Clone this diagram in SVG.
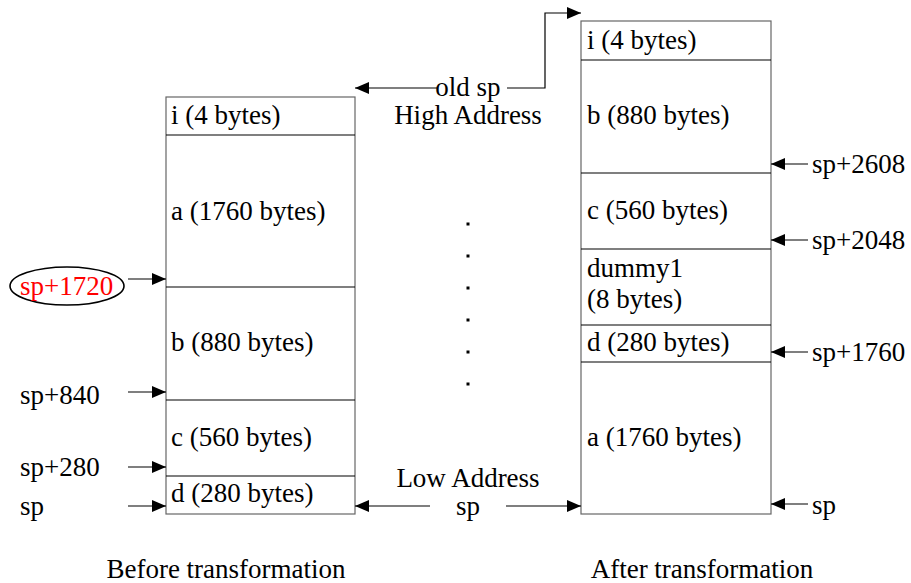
<svg xmlns="http://www.w3.org/2000/svg" width="911" height="583" viewBox="0 0 911 583">
  <style>
    text { font-family: "Liberation Serif", "Times New Roman", serif; font-size: 27px; fill: #000; }
    .mid { text-anchor: middle; }
    .red { fill: #ff0000; }
    .box { fill: #fff; stroke: #666; stroke-width: 1.2; }
    .div { stroke: #000; stroke-width: 1.2; }
    .arr { fill: none; stroke: #000; stroke-width: 1.2; marker-end: url(#head); }
  </style>
  <defs>
    <marker id="head" viewBox="0 0 14 12" refX="14" refY="6" markerWidth="14" markerHeight="12" markerUnits="userSpaceOnUse" orient="auto">
      <path d="M0,0 L14,6 L0,12 Z" fill="#000"/>
    </marker>
  </defs>
  <rect width="911" height="583" fill="#fff"/>

  <g font-family="Liberation Serif, serif" font-size="27">
  <!-- stack frame before the transformation -->
  <g id="frame-before">
    <rect class="box" x="166" y="97" width="189" height="417"/>
    <line class="div" x1="166" y1="135" x2="355" y2="135"/>
    <line class="div" x1="166" y1="287" x2="355" y2="287"/>
    <line class="div" x1="166" y1="400" x2="355" y2="400"/>
    <line class="div" x1="166" y1="476" x2="355" y2="476"/>
    <text x="171" y="124">i (4 bytes)</text>
    <text x="171" y="220">a (1760 bytes)</text>
    <text x="171" y="351">b (880 bytes)</text>
    <text x="171" y="446">c (560 bytes)</text>
    <text x="171" y="502">d (280 bytes)</text>
  </g>

  <!-- stack frame after the transformation -->
  <g id="frame-after">
    <rect class="box" x="581" y="21" width="190" height="493"/>
    <line class="div" x1="581" y1="60" x2="771" y2="60"/>
    <line class="div" x1="581" y1="173" x2="771" y2="173"/>
    <line class="div" x1="581" y1="249" x2="771" y2="249"/>
    <line class="div" x1="581" y1="325" x2="771" y2="325"/>
    <line class="div" x1="581" y1="362" x2="771" y2="362"/>
    <text x="587" y="49">i (4 bytes)</text>
    <text x="587" y="124">b (880 bytes)</text>
    <text x="587" y="219">c (560 bytes)</text>
    <text x="587" y="277">dummy1</text>
    <text x="587" y="308">(8 bytes)</text>
    <text x="587" y="351">d (280 bytes)</text>
    <text x="587" y="446">a (1760 bytes)</text>
  </g>

  <!-- offset labels, left -->
  <g id="label-sp1720">
    <ellipse cx="67" cy="286" rx="57" ry="19" fill="none" stroke="#000" stroke-width="1.6"/>
    <text class="red" x="20" y="295">sp+1720</text>
  </g>
  <g id="label-sp840"><text x="20" y="404">sp+840</text></g>
  <g id="label-sp280"><text x="20" y="476">sp+280</text></g>
  <g id="label-sp-left"><text x="20" y="515">sp</text></g>

  <!-- offset labels, right -->
  <g id="label-sp2608"><text x="812" y="173">sp+2608</text></g>
  <g id="label-sp2048"><text x="812" y="249">sp+2048</text></g>
  <g id="label-sp1760"><text x="812" y="361">sp+1760</text></g>
  <g id="label-sp-right"><text x="812" y="514">sp</text></g>

  <!-- middle annotations -->
  <g id="label-oldsp"><text class="mid" x="468" y="96">old sp</text></g>
  <g id="label-high"><text class="mid" x="468" y="124">High Address</text></g>
  <g id="label-low"><text class="mid" x="468" y="487">Low Address</text></g>
  <g id="label-sp-mid"><text class="mid" x="468" y="515">sp</text></g>

  <g id="ellipsis" fill="#000">
    <rect x="466.5" y="222.5" width="3" height="3"/>
    <rect x="466.5" y="254.5" width="3" height="3"/>
    <rect x="466.5" y="286.5" width="3" height="3"/>
    <rect x="466.5" y="318.5" width="3" height="3"/>
    <rect x="466.5" y="350.5" width="3" height="3"/>
    <rect x="466.5" y="382.5" width="3" height="3"/>
  </g>

  <!-- captions -->
  <g id="caption-before"><text class="mid" x="226" y="578">Before transformation</text></g>
  <g id="caption-after"><text class="mid" x="702" y="578">After transformation</text></g>
  </g>

  <!-- connectors -->
  <g id="connectors">
    <path class="arr" d="M128,279 H166"/>
    <path class="arr" d="M128,392 H166"/>
    <path class="arr" d="M128,467 H166"/>
    <path class="arr" d="M128,506 H166"/>

    <path class="arr" d="M808,164 H771"/>
    <path class="arr" d="M808,240 H771"/>
    <path class="arr" d="M808,352 H771"/>
    <path class="arr" d="M808,504 H771"/>

    <path class="arr" d="M437,88 H355"/>
    <path class="arr" d="M507,88 H545 V13 H581"/>

    <path class="arr" d="M430,506 H355"/>
    <path class="arr" d="M506,506 H581"/>
  </g>
</svg>
